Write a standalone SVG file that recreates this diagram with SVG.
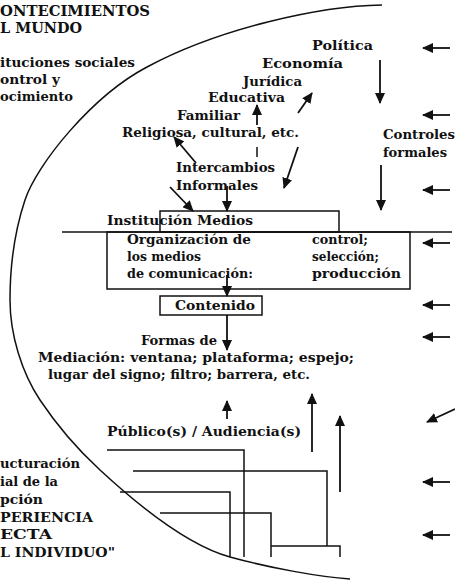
<svg xmlns="http://www.w3.org/2000/svg" width="455" height="580" viewBox="0 0 455 580">
<style>
text{font-family:"DejaVu Serif","Liberation Serif",serif;font-weight:bold;font-size:13.5px;fill:#111}
.big{font-size:15px}
.ln{fill:none;stroke:#111;stroke-width:1.5}
.ar{fill:none;stroke:#111;stroke-width:1.8;marker-end:url(#ah)}
</style>
<defs>
<marker id="ah" markerUnits="userSpaceOnUse" markerWidth="11" markerHeight="10" refX="10" refY="5" orient="auto">
<path d="M0,0 L11,5 L0,10 z" fill="#111"/>
</marker>
</defs>
<rect width="455" height="580" fill="#fff"/>
<path class="ln" d="M382,5 C320,6 220,28 147,67 C92,96 37,164 25,200 C13,236 10,270 10,300 C10,335 22,373 40,400 C58,427 75,447 100,470 C140,507 190,546 230,557 C270,568 320,577 350,579"/>
<g id="left-top">
<text class="big" x="0" y="16" textLength="150" lengthAdjust="spacingAndGlyphs">ONTECIMIENTOS</text>
<text class="big" x="0" y="33" textLength="82" lengthAdjust="spacingAndGlyphs">L MUNDO</text>
<text x="0" y="67" textLength="135" lengthAdjust="spacingAndGlyphs">ituciones sociales</text>
<text x="0" y="84" textLength="60" lengthAdjust="spacingAndGlyphs">ontrol y</text>
<text x="0" y="101" textLength="73" lengthAdjust="spacingAndGlyphs">ocimiento</text>
</g>
<g id="instituciones">
<text x="312" y="50" textLength="61" lengthAdjust="spacingAndGlyphs">Política</text>
<text x="262" y="68" textLength="81" lengthAdjust="spacingAndGlyphs">Economía</text>
<text x="243" y="86" textLength="59" lengthAdjust="spacingAndGlyphs">Jurídica</text>
<text x="208" y="102" textLength="77" lengthAdjust="spacingAndGlyphs">Educativa</text>
<text x="177" y="120" textLength="63" lengthAdjust="spacingAndGlyphs">Familiar</text>
<text x="122" y="137" textLength="177" lengthAdjust="spacingAndGlyphs">Religiosa, cultural, etc.</text>
</g>
<g id="intercambios">
<text x="176" y="172" textLength="99" lengthAdjust="spacingAndGlyphs">Intercambios</text>
<text x="176" y="190" textLength="82" lengthAdjust="spacingAndGlyphs">Informales</text>
</g>
<g id="controles">
<text x="383" y="139" textLength="72" lengthAdjust="spacingAndGlyphs">Controles</text>
<text x="383" y="157" textLength="64" lengthAdjust="spacingAndGlyphs">formales</text>
</g>
<g id="institucion-medios">
<rect class="ln" x="160" y="211" width="179" height="21"/>
<text x="107" y="225" textLength="146" lengthAdjust="spacingAndGlyphs">Institución Medios</text>
</g>
<line class="ln" x1="62" y1="232" x2="452" y2="232"/>
<g id="organizacion">
<rect class="ln" x="107" y="232" width="303" height="57"/>
<text x="127" y="244" textLength="124" lengthAdjust="spacingAndGlyphs">Organización de</text>
<text x="127" y="261" textLength="74" lengthAdjust="spacingAndGlyphs">los medios</text>
<text x="127" y="278" textLength="126" lengthAdjust="spacingAndGlyphs">de comunicación:</text>
<text x="312" y="244" textLength="56" lengthAdjust="spacingAndGlyphs">control;</text>
<text x="312" y="261" textLength="67" lengthAdjust="spacingAndGlyphs">selección;</text>
<text x="312" y="278" textLength="89" lengthAdjust="spacingAndGlyphs">producción</text>
</g>
<g id="contenido">
<rect class="ln" x="160" y="296" width="102" height="19"/>
<text x="175" y="310" textLength="80" lengthAdjust="spacingAndGlyphs">Contenido</text>
</g>
<g id="formas">
<text x="141" y="345" textLength="76" lengthAdjust="spacingAndGlyphs">Formas de</text>
<text x="38" y="362" textLength="316" lengthAdjust="spacingAndGlyphs">Mediación: ventana; plataforma; espejo;</text>
<text x="48" y="379" textLength="262" lengthAdjust="spacingAndGlyphs">lugar del signo; filtro; barrera, etc.</text>
</g>
<g id="publico">
<text x="107" y="436" textLength="194" lengthAdjust="spacingAndGlyphs">Público(s) / Audiencia(s)</text>
</g>
<g id="left-bottom">
<text x="0" y="468" textLength="80" lengthAdjust="spacingAndGlyphs">ucturación</text>
<text x="0" y="486" textLength="58" lengthAdjust="spacingAndGlyphs">ial de la</text>
<text x="0" y="504" textLength="43" lengthAdjust="spacingAndGlyphs">pción</text>
<text x="0" y="522" textLength="93" lengthAdjust="spacingAndGlyphs">PERIENCIA</text>
<text x="0" y="539" textLength="52" lengthAdjust="spacingAndGlyphs">ECTA</text>
<text x="0" y="557" textLength="115" lengthAdjust="spacingAndGlyphs">L INDIVIDUO"</text>
</g>
<g id="connectors">
<line class="ar" x1="257" y1="125" x2="257" y2="105"/>
<line class="ar" x1="298" y1="113" x2="312" y2="93"/>
<line class="ln" x1="257" y1="147" x2="257" y2="157"/>
<line class="ar" x1="196" y1="163" x2="174" y2="137"/>
<line class="ar" x1="298" y1="147" x2="284" y2="188"/>
<line class="ar" x1="170" y1="187" x2="193" y2="211"/>
<line class="ar" x1="227" y1="186" x2="227" y2="211"/>
<line class="ar" x1="380" y1="60" x2="380" y2="103"/>
<line class="ar" x1="381" y1="165" x2="381" y2="210"/>
<line class="ar" x1="227" y1="275" x2="227" y2="296"/>
<line class="ar" x1="227" y1="315" x2="227" y2="350"/>
<line class="ar" x1="227" y1="419" x2="227" y2="401"/>
<line class="ar" x1="312" y1="452" x2="312" y2="394"/>
<line class="ar" x1="340" y1="492" x2="340" y2="416"/>
<line class="ar" x1="450" y1="48" x2="423" y2="48"/>
<line class="ar" x1="450" y1="115" x2="423" y2="115"/>
<line class="ar" x1="450" y1="190" x2="423" y2="190"/>
<line class="ar" x1="450" y1="243" x2="423" y2="243"/>
<line class="ar" x1="450" y1="305" x2="423" y2="305"/>
<line class="ar" x1="450" y1="337" x2="423" y2="337"/>
<line class="ar" x1="455" y1="409" x2="427" y2="422"/>
<line class="ar" x1="450" y1="482" x2="423" y2="482"/>
<line class="ar" x1="450" y1="535" x2="423" y2="535"/>
<path class="ln" d="M107,450 H244 V557"/>
<path class="ln" d="M133,471 H327 V546"/>
<path class="ln" d="M120,492 H230 V557"/>
<path class="ln" d="M160,513 H271 V557"/>
<path class="ln" d="M271,546 H340 V557"/>
</g>
</svg>
